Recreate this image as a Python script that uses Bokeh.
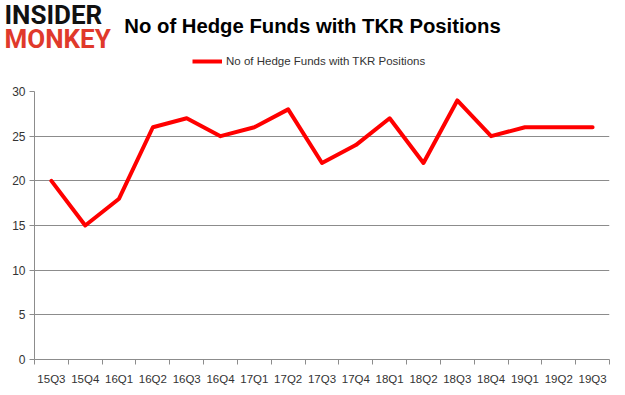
from bokeh.plotting import figure
from bokeh.models import FixedTicker, Label, Legend, LegendItem, Range1d, ColumnDataSource
from bokeh.layouts import column, row
from bokeh.embed import file_html
from bokeh.resources import INLINE

quarters = ["15Q3", "15Q4", "16Q1", "16Q2", "16Q3", "16Q4", "17Q1", "17Q2", "17Q3",
            "17Q4", "18Q1", "18Q2", "18Q3", "18Q4", "19Q1", "19Q2", "19Q3"]
funds = [20, 15, 18, 26, 27, 25, 26, 28, 22, 24, 27, 22, 29, 25, 26, 26, 26]
y_ticks = [0, 5, 10, 15, 20, 25, 30]
series_name = "No of Hedge Funds with TKR Positions"
title_text = "No of Hedge Funds with TKR Positions"

RED = "#ff0000"
GRAY = "#8c8c8c"
TXT = "#333333"
W = 617
HEAD_H = 83

idx = list(range(len(quarters)))
src = ColumnDataSource(dict(x=idx, y=funds))

# ---- header: logo, title, legend ----
head = figure(width=W, height=HEAD_H, output_backend="svg", toolbar_location=None,
              x_range=Range1d(100, 101), y_range=Range1d(100, 101),
              x_axis_type=None, y_axis_type=None,
              min_border=0, min_border_left=0, min_border_right=0,
              min_border_top=0, min_border_bottom=0)
head.outline_line_color = None
head.xgrid.visible = False
head.ygrid.visible = False
# legend key: same series, lying outside this header's visible range
key = head.line("x", "y", source=src, line_color=RED, line_width=4)

head.add_layout(Label(x=312, y=HEAD_H - 25, x_units="screen", y_units="screen", text=title_text,
                      text_align="center", text_baseline="middle",
                      text_font="Liberation Sans", text_font_size="20.3px",
                      text_font_style="bold", text_color="#000000"))
head.add_layout(Label(x=4, y=HEAD_H + 1, x_units="screen", y_units="screen", text="INSIDER",
                      text_align="left", text_baseline="top",
                      text_font="Roboto", text_font_size="26px",
                      text_font_style="bold", text_color="#111111"))
head.add_layout(Label(x=4, y=HEAD_H - 23, x_units="screen", y_units="screen", text="MONKEY",
                      text_align="left", text_baseline="top",
                      text_font="Roboto", text_font_size="26px",
                      text_font_style="bold", text_color="#e0392b"))
legend = Legend(items=[LegendItem(label=series_name, renderers=[key])],
                location=(192, 12), orientation="horizontal",
                padding=0, margin=0, spacing=0,
                border_line_alpha=0, background_fill_alpha=0,
                glyph_width=30, glyph_height=20, label_height=20,
                label_standoff=4, label_text_font="Liberation Sans",
                label_text_font_size="11.5px", label_text_color=TXT)
head.add_layout(legend, "center")

# ---- main chart ----
p = figure(width=W, height=304, output_backend="svg", toolbar_location=None,
           x_range=Range1d(-0.5, len(quarters) - 0.5), y_range=Range1d(0, 30),
           min_border_left=34, min_border_right=8, min_border_top=8, min_border_bottom=28)
p.outline_line_color = None

p.line("x", "y", source=src, line_color=RED, line_width=4, line_cap="round", line_join="round")

xa = p.xaxis[0]
xa.ticker = FixedTicker(ticks=idx, minor_ticks=[i - 0.5 for i in range(len(quarters) + 1)])
xa.major_label_overrides = {i: q for i, q in enumerate(quarters)}
xa.major_tick_out = 0
xa.major_tick_in = 0
xa.minor_tick_out = 5
xa.minor_tick_in = 0
xa.minor_tick_line_color = GRAY
xa.axis_line_color = GRAY
xa.major_label_text_font = "Liberation Sans"
xa.major_label_text_font_size = "11.5px"
xa.major_label_text_color = TXT
xa.major_label_standoff = 8

ya = p.yaxis[0]
ya.ticker = FixedTicker(ticks=y_ticks)
ya.major_tick_out = 5
ya.major_tick_in = 0
ya.minor_tick_out = 0
ya.minor_tick_in = 0
ya.major_tick_line_color = GRAY
ya.axis_line_color = GRAY
ya.major_label_text_font = "Liberation Sans"
ya.major_label_text_font_size = "12px"
ya.major_label_text_color = TXT
ya.major_label_standoff = 4

p.xgrid.visible = False
p.ygrid.ticker = FixedTicker(ticks=y_ticks)
p.ygrid.grid_line_color = GRAY
p.ygrid.grid_line_width = 1

layout = column(row(head), p, spacing=0)
open("out.html", "w").write(file_html(layout, INLINE))
